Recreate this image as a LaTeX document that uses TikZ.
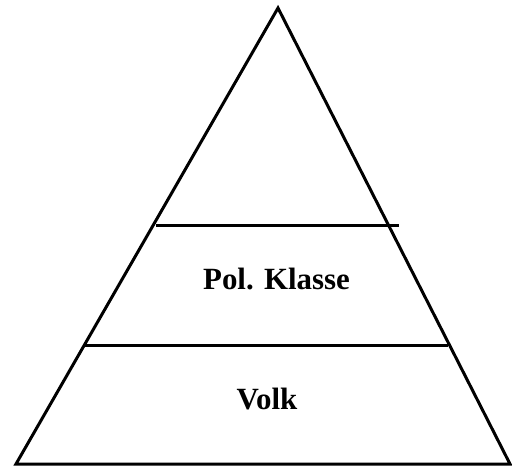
\documentclass[tikz,border=0pt]{standalone}
\usepackage{fontspec}
\setmainfont{Liberation Serif}
\begin{document}
\begin{tikzpicture}[x=1bp,y=-1bp,
  edge/.style={line width=3bp,draw=black},
  lbl/.style={font=\fontsize{31}{36}\selectfont\bfseries,inner sep=0pt,anchor=base}]
\useasboundingbox (0,0) rectangle (512,467);
\coordinate (apex) at (278,8);
\coordinate (bl) at (16,464);
\coordinate (br) at (510,464);
\draw[edge,line join=miter] (apex) -- (bl) -- (br) -- cycle;
\coordinate (u1) at (156,226);
\coordinate (u2) at (399,226);
\coordinate (l1) at (85,345);
\coordinate (l2) at (448,345);
\draw[edge] (u1) -- (u2);
\draw[edge] (l1) -- (l2);
\node[lbl] (pol) at (276.5,289) {Pol. Klasse};
\node[lbl] (volk) at (267,409) {Volk};
\end{tikzpicture}
\end{document}
